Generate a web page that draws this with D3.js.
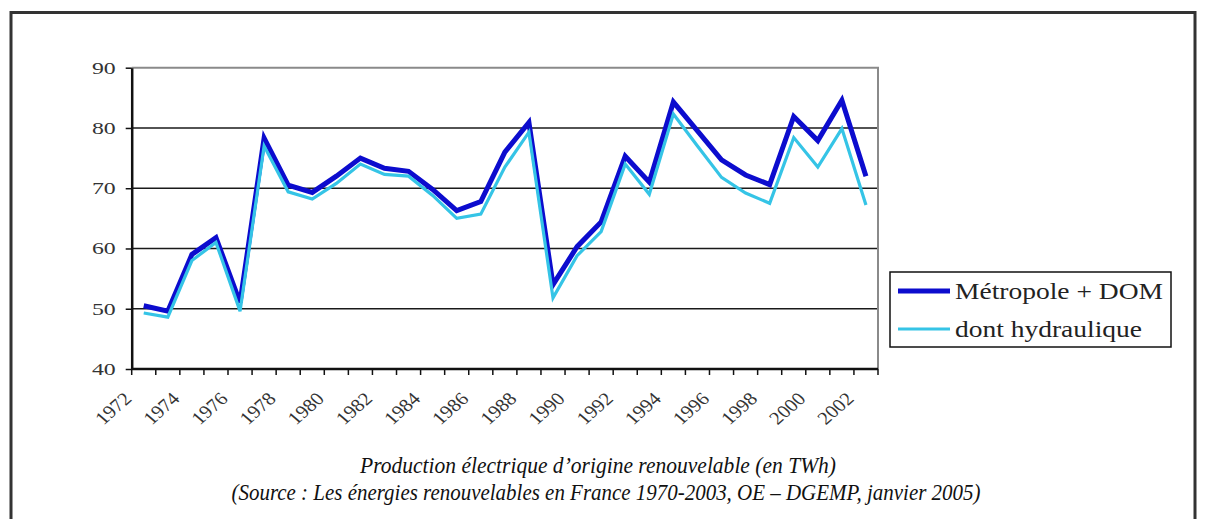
<!DOCTYPE html>
<html>
<head>
<meta charset="utf-8">
<script src="https://cdn.jsdelivr.net/npm/d3@7/dist/d3.min.js"></script>
<style>
  body { margin: 0; background: #fff; }
  svg text { font-family: 'Liberation Serif', 'Times New Roman', serif; }
</style>
</head>
<body>
<div id="chart"></div>
<script>
const years = d3.range(1972, 2003).map(String);
const yearLabels = years.filter((d, i) => i % 2 === 0);

// Métropole + DOM (TWh)
const metropoleDom = [
  50.5, 49.6, 59.0, 61.8, 51.0, 78.3, 70.5, 69.3, 72.0, 75.0,
  73.3, 72.8, 69.8, 66.3, 67.8, 76.0, 80.9, 54.0, 60.3, 64.4,
  75.3, 71.0, 84.3, 79.5, 74.7, 72.2, 70.6, 81.9, 77.9, 84.6,
  72.0
];

// dont hydraulique (TWh)
const hydraulique = [
  49.3, 48.6, 58.0, 61.0, 49.6, 77.0, 69.4, 68.2, 70.8, 74.0,
  72.3, 72.0, 68.8, 65.0, 65.7, 73.5, 79.3, 51.8, 58.8, 62.8,
  74.0, 69.0, 82.3, 77.0, 71.8, 69.2, 67.5, 78.4, 73.5, 79.9,
  67.2
];

const yTicks = [40, 50, 60, 70, 80, 90];
const seriesNames = ['Métropole + DOM', 'dont hydraulique'];
const seriesColors = ['#0c0cce', '#35c4e6'];

const width = 1206;
const height = 519;
const plot = { left: 131.7, right: 878, top: 67.7, bottom: 369 };
const serif = "'Liberation Serif', 'Times New Roman', serif";

const svg = d3.select('#chart')
  .append('svg')
  .attr('width', width)
  .attr('height', height);

// outer frame
svg.append('rect')
  .attr('x', 11)
  .attr('y', 12.5)
  .attr('width', 1184)
  .attr('height', 540)
  .attr('fill', 'none')
  .attr('stroke', '#333')
  .attr('stroke-width', 3);

const x = d3.scaleBand()
  .domain(years)
  .range([plot.left, plot.right])
  .paddingInner(0)
  .paddingOuter(0);

const y = d3.scaleLinear()
  .domain([40, 90])
  .range([plot.bottom, plot.top]);

const cx = d => x(d) + x.bandwidth() / 2;

// grid lines
svg.append('g')
  .selectAll('line')
  .data(yTicks.filter(v => v > 40 && v < 90))
  .join('line')
  .attr('x1', plot.left)
  .attr('x2', plot.right)
  .attr('y1', d => y(d))
  .attr('y2', d => y(d))
  .attr('stroke', '#1a1a1a')
  .attr('stroke-width', 1.5);

// plot border top / right (grey)
svg.append('path')
  .attr('d', `M${plot.left},${y(90)}H${plot.right}V${plot.bottom}`)
  .attr('fill', 'none')
  .attr('stroke', '#8a8a8a')
  .attr('stroke-width', 2);

// y axis
const gy = svg.append('g')
  .attr('transform', `translate(${plot.left},0)`)
  .call(d3.axisLeft(y).tickValues(yTicks).tickSize(6).tickSizeOuter(0))
  .attr('font-family', serif);
gy.select('.domain').attr('stroke', '#111').attr('stroke-width', 2.5);
gy.selectAll('.tick line').attr('stroke', '#111').attr('stroke-width', 1.5);
gy.selectAll('.tick text')
  .attr('x', 0)
  .attr('dy', '0.32em')
  .attr('transform', 'translate(-16,0) scale(1.4,1)')
  .attr('font-size', 17)
  .attr('fill', '#333');

// x axis: ticks between categories
const gx = svg.append('g')
  .attr('transform', `translate(0,${plot.bottom})`);
gx.append('line')
  .attr('x1', plot.left)
  .attr('x2', plot.right)
  .attr('stroke', '#111')
  .attr('stroke-width', 2.5);
gx.selectAll('.xtick')
  .data(years.concat(['end']))
  .join('line')
  .attr('class', 'xtick')
  .attr('x1', (d, i) => i < years.length ? x(d) : plot.right)
  .attr('x2', (d, i) => i < years.length ? x(d) : plot.right)
  .attr('y1', 0)
  .attr('y2', 6)
  .attr('stroke', '#111')
  .attr('stroke-width', 1.5);
gx.selectAll('.xlabel')
  .data(yearLabels)
  .join('text')
  .attr('class', 'xlabel')
  .attr('text-anchor', 'end')
  .attr('font-size', 18)
  .attr('fill', '#333')
  .attr('transform', d => `translate(${cx(d) - 11},${31}) scale(1.15,1) rotate(-45)`)
  .text(d => d);

// lines
const line = d3.line()
  .x((d, i) => cx(years[i]))
  .y(d => y(d));

svg.append('path')
  .datum(metropoleDom)
  .attr('d', line)
  .attr('fill', 'none')
  .attr('stroke', seriesColors[0])
  .attr('stroke-width', 5)
  .attr('stroke-linejoin', 'miter');

svg.append('path')
  .datum(hydraulique)
  .attr('d', line)
  .attr('fill', 'none')
  .attr('stroke', seriesColors[1])
  .attr('stroke-width', 3.2)
  .attr('stroke-linejoin', 'miter');

// legend
const legend = svg.append('g').attr('transform', 'translate(890,272)');
legend.append('rect')
  .attr('width', 281)
  .attr('height', 75)
  .attr('fill', '#fff')
  .attr('stroke', '#111')
  .attr('stroke-width', 1.5);
const legendWidths = [208, 187];
const items = legend.selectAll('.item')
  .data(seriesNames)
  .join('g')
  .attr('class', 'item')
  .attr('transform', (d, i) => `translate(0,${19 + i * 38})`);
items.append('line')
  .attr('x1', 8)
  .attr('x2', 60)
  .attr('stroke', (d, i) => seriesColors[i])
  .attr('stroke-width', (d, i) => i === 0 ? 5 : 3);
items.append('text')
  .attr('x', 65)
  .attr('y', 8)
  .attr('font-size', 23)
  .attr('fill', '#222')
  .attr('textLength', (d, i) => legendWidths[i])
  .attr('lengthAdjust', 'spacingAndGlyphs')
  .text(d => d);

// caption
const caption = [
  'Production électrique d’origine renouvelable (en TWh)',
  '(Source : Les énergies renouvelables en France 1970-2003, OE – DGEMP, janvier 2005)'
];
const captionPos = [{ x: 598, y: 473, w: 476 }, { x: 606, y: 500, w: 749 }];
svg.selectAll('.caption')
  .data(caption)
  .join('text')
  .attr('class', 'caption')
  .attr('x', (d, i) => captionPos[i].x)
  .attr('y', (d, i) => captionPos[i].y)
  .attr('text-anchor', 'middle')
  .attr('font-style', 'italic')
  .attr('font-size', 24)
  .attr('fill', '#111')
  .attr('textLength', (d, i) => captionPos[i].w)
  .attr('lengthAdjust', 'spacingAndGlyphs')
  .text(d => d);
</script>
</body>
</html>
